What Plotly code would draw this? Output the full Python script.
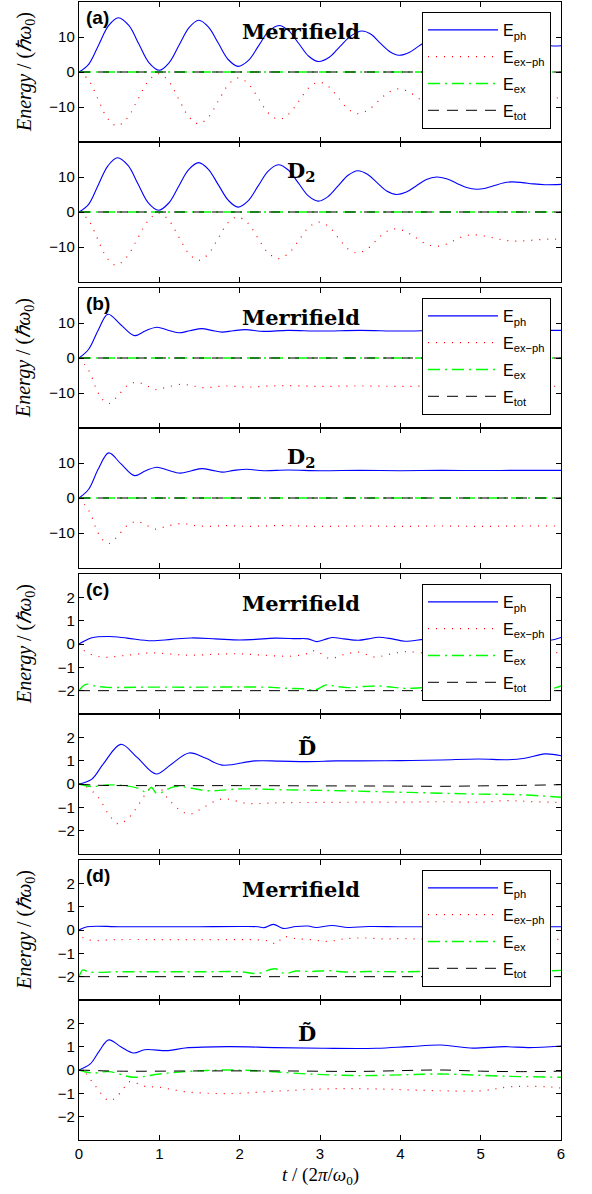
import plotly.graph_objects as go

# ---------------- data ----------------
T_FLAT = [0, 6]

# panel (a) Merrifield
a1_ph_t = [0, 0.12, 0.245, 0.37, 0.49, 0.62, 0.745, 0.87, 1.0, 1.12, 1.245, 1.37, 1.49, 1.61, 1.735, 1.86, 1.98, 2.11, 2.235, 2.36, 2.49, 2.61, 2.735, 2.86, 2.98, 3.12, 3.25, 3.39, 3.52, 3.64, 3.75, 3.87, 3.98, 4.11, 4.23, 4.36, 4.48, 4.6, 4.72, 4.84, 4.96, 5.08, 5.2, 5.32, 5.44, 5.6, 5.75, 5.9, 6.0]
a1_ph = [0, 2.2, 7.75, 13.3, 15.5, 13.3, 8.0, 2.7, 0.5, 2.6, 7.65, 12.7, 14.8, 12.9, 8.2, 3.5, 1.6, 3.3, 7.45, 11.6, 13.3, 11.8, 8.15, 4.5, 3.0, 4.3, 7.35, 10.4, 11.7, 10.7, 8.25, 5.8, 4.8, 5.6, 7.4, 9.2, 10.0, 9.5, 8.15, 6.8, 6.3, 6.65, 7.5, 8.35, 8.7, 8.4, 7.8, 7.45, 7.5]
a1_xp_t = [0, 0.12, 0.235, 0.35, 0.47, 0.6, 0.73, 0.86, 0.99, 1.115, 1.24, 1.365, 1.49, 1.61, 1.735, 1.86, 1.98, 2.11, 2.235, 2.36, 2.49, 2.615, 2.74, 2.865, 2.99, 3.11, 3.23, 3.35, 3.47, 3.6, 3.725, 3.85, 3.98, 4.1, 4.22, 4.34, 4.46, 4.58, 4.705, 4.83, 4.95, 5.075, 5.2, 5.325, 5.45, 5.6, 5.75, 5.9, 6.0]
a1_xp = [0, -2.3, -7.7, -13.05, -15.4, -13.2, -7.95, -2.7, -0.5, -2.6, -7.65, -12.7, -14.8, -12.9, -8.25, -3.6, -1.7, -3.4, -7.6, -11.8, -13.5, -11.95, -8.2, -4.45, -2.9, -4.2, -7.4, -10.6, -11.9, -10.85, -8.35, -5.85, -4.8, -5.6, -7.4, -9.2, -10.0, -9.5, -8.15, -6.8, -6.3, -6.65, -7.5, -8.35, -8.7, -8.4, -7.8, -7.45, -7.4]
a1_ex = [0, 0]
a1_tot = [0, 0]

# panel (a) D2
a2_ph_t = [0, 0.12, 0.24, 0.36, 0.48, 0.61, 0.735, 0.86, 0.99, 1.115, 1.24, 1.365, 1.49, 1.61, 1.735, 1.86, 1.98, 2.105, 2.23, 2.355, 2.48, 2.605, 2.73, 2.855, 2.98, 3.1, 3.225, 3.35, 3.47, 3.59, 3.71, 3.83, 3.95, 4.075, 4.2, 4.325, 4.45, 4.575, 4.7, 4.825, 4.95, 5.06, 5.17, 5.28, 5.39, 5.52, 5.65, 5.8, 6.0]
a2_ph = [0, 2.2, 7.75, 13.2, 15.5, 13.3, 8.0, 2.7, 0.5, 2.5, 7.3, 12.1, 14.1, 12.2, 7.75, 3.3, 1.4, 3.2, 7.45, 11.7, 13.5, 12.0, 8.3, 4.6, 3.1, 4.4, 7.45, 10.5, 11.8, 10.8, 8.4, 6.0, 5.0, 5.7, 7.5, 9.3, 10.0, 9.5, 8.25, 7.0, 6.5, 6.8, 7.55, 8.3, 8.6, 8.4, 8.05, 7.8, 7.9]
a2_xp_t = [0, 0.115, 0.23, 0.345, 0.46, 0.59, 0.725, 0.86, 0.99, 1.115, 1.24, 1.365, 1.49, 1.61, 1.73, 1.85, 1.97, 2.1, 2.225, 2.35, 2.48, 2.61, 2.735, 2.86, 2.99, 3.11, 3.225, 3.34, 3.46, 3.58, 3.695, 3.81, 3.93, 4.06, 4.19, 4.32, 4.45, 4.56, 4.67, 4.78, 4.89, 5.025, 5.16, 5.295, 5.43, 5.57, 5.72, 5.86, 6.0]
a2_xp = [0, -2.2, -7.6, -13.0, -15.2, -13.0, -7.75, -2.5, -0.3, -2.3, -7.05, -11.8, -13.8, -12.0, -7.6, -3.2, -1.4, -3.15, -7.35, -11.55, -13.3, -11.8, -8.1, -4.4, -2.9, -4.2, -7.3, -10.4, -11.7, -10.7, -8.25, -5.8, -4.8, -5.5, -7.3, -9.1, -9.8, -9.3, -8.15, -7.0, -6.5, -6.75, -7.4, -8.05, -8.3, -8.2, -7.9, -7.75, -7.8]
a2_ex = [0, 0]
a2_tot = [0, 0]

# panel (b) Merrifield
b1_ph_t = [0, 0.12, 0.24, 0.36, 0.52, 0.69, 0.83, 0.97, 1.1, 1.24, 1.38, 1.53, 1.65, 1.78, 1.92, 2.07, 2.3, 2.6, 3.0, 3.5, 4.0, 4.5, 5.0, 5.5, 6.0]
b1_ph = [0, 2.5, 8.0, 12.5, 9.5, 6.4, 7.8, 8.8, 8.0, 7.2, 7.8, 8.4, 7.9, 7.4, 7.8, 8.1, 7.6, 7.9, 7.7, 7.9, 7.7, 7.9, 7.8, 7.9, 7.9]
b1_xp_t = [0, 0.07, 0.14, 0.22, 0.29, 0.37, 0.48, 0.6, 0.72, 0.84, 0.95, 1.1, 1.28, 1.42, 1.57, 1.8, 2.1, 2.5, 3.0, 3.5, 4.0, 4.5, 5.0, 5.5, 6.0]
b1_xp = [0, -1.9, -4.3, -9.1, -11.8, -13.0, -10.9, -7.9, -6.9, -7.9, -9.0, -8.3, -7.5, -8.0, -8.5, -8.0, -8.3, -7.9, -8.1, -8.0, -8.1, -8.0, -8.1, -8.0, -8.1]
b1_ex = [0, 0]
b1_tot = [0, 0]

# panel (b) D2
b2_ph_t = [0, 0.12, 0.24, 0.37, 0.52, 0.69, 0.83, 0.97, 1.1, 1.26, 1.4, 1.53, 1.66, 1.78, 1.93, 2.09, 2.3, 2.6, 3.0, 3.5, 4.0, 4.5, 5.0, 5.5, 6.0]
b2_ph = [0, 2.5, 8.3, 12.9, 9.8, 6.4, 7.8, 8.8, 8.0, 7.1, 7.8, 8.4, 7.9, 7.4, 7.9, 8.2, 7.8, 8.0, 7.8, 7.9, 7.8, 7.9, 7.85, 7.9, 7.9]
b2_xp_t = [0, 0.07, 0.14, 0.22, 0.29, 0.37, 0.48, 0.6, 0.72, 0.84, 0.95, 1.1, 1.28, 1.42, 1.57, 1.8, 2.1, 2.5, 3.0, 3.5, 4.0, 4.5, 5.0, 5.5, 6.0]
b2_xp = [0, -1.9, -4.3, -9.1, -11.8, -13.0, -10.9, -7.9, -6.7, -7.8, -8.9, -8.0, -7.3, -7.8, -8.1, -7.9, -8.1, -7.9, -8.1, -8.0, -8.1, -8.0, -8.1, -8.0, -8.0]
b2_ex = [0, 0]
b2_tot = [0, 0]

# panel (c) Merrifield
c1_ph_t = [0, 0.08, 0.16, 0.37, 0.6, 0.9, 1.15, 1.4, 1.7, 2.0, 2.2, 2.44, 2.7, 2.85, 2.96, 3.05, 3.15, 3.3, 3.48, 3.6, 3.73, 3.9, 4.06, 4.3, 4.6, 5.0, 5.4, 5.85, 6.0]
c1_ph = [0, 0.15, 0.27, 0.32, 0.25, 0.14, 0.2, 0.26, 0.22, 0.17, 0.2, 0.25, 0.23, 0.22, 0.1, 0.18, 0.28, 0.22, 0.16, 0.22, 0.29, 0.22, 0.12, 0.2, 0.25, 0.2, 0.25, 0.15, 0.28]
c1_xp_t = [0, 0.07, 0.28, 0.55, 0.9, 1.2, 1.4, 1.7, 2.0, 2.3, 2.65, 2.85, 2.94, 3.12, 3.3, 3.48, 3.68, 3.85, 4.06, 4.4, 4.8, 5.2, 5.6, 5.85, 6.0]
c1_xp = [0, -0.3, -0.56, -0.5, -0.38, -0.45, -0.48, -0.44, -0.42, -0.48, -0.52, -0.4, -0.28, -0.62, -0.45, -0.35, -0.56, -0.45, -0.33, -0.42, -0.45, -0.42, -0.4, -0.45, -0.3]
c1_ex_t = [0, 0.05, 0.1, 0.2, 0.35, 0.8, 1.5, 2.0, 2.4, 2.6, 2.8, 2.94, 3.08, 3.2, 3.35, 3.55, 3.73, 3.9, 4.06, 4.4, 4.8, 5.2, 5.6, 5.85, 6.0]
c1_ex = [-2.0, -1.8, -1.72, -1.8, -1.86, -1.85, -1.85, -1.84, -1.86, -1.9, -1.92, -1.97, -1.75, -1.82, -1.87, -1.82, -1.8, -1.85, -1.9, -1.85, -1.82, -1.85, -1.84, -1.93, -1.8]
c1_tot = [-2, -2]

# panel (c) D-tilde
c2_ph_t = [0, 0.16, 0.3, 0.52, 0.72, 0.96, 1.15, 1.37, 1.58, 1.78, 2.19, 2.5, 2.85, 3.2, 3.48, 4.0, 4.51, 4.97, 5.34, 5.55, 5.8, 6.0]
c2_ph = [0, 0.21, 0.85, 1.7, 1.15, 0.43, 0.85, 1.33, 1.1, 0.81, 0.99, 0.98, 0.96, 0.99, 0.99, 1.0, 1.03, 1.07, 1.04, 1.1, 1.29, 1.21]
c2_xp_t = [0, 0.07, 0.24, 0.36, 0.49, 0.62, 0.72, 0.9, 0.99, 1.11, 1.25, 1.38, 1.55, 1.78, 2.1, 2.5, 3.0, 3.5, 4.0, 4.5, 5.0, 5.34, 5.6, 5.93, 6.0]
c2_xp = [0, -0.07, -0.57, -1.25, -1.71, -1.45, -1.0, -0.14, -0.12, -0.64, -1.1, -1.29, -1.0, -0.64, -0.83, -0.8, -0.79, -0.78, -0.78, -0.76, -0.78, -0.71, -0.75, -0.79, -0.8]
c2_ex_t = [0, 0.16, 0.35, 0.57, 0.75, 0.84, 0.9, 0.97, 1.2, 1.61, 2.02, 2.6, 3.27, 4.1, 4.93, 5.5, 6.0]
c2_ex = [0, -0.11, -0.04, -0.07, -0.2, -0.36, -0.14, -0.4, -0.11, -0.29, -0.21, -0.25, -0.29, -0.36, -0.43, -0.46, -0.57]
c2_tot_t = [0, 0.2, 1, 2, 3, 4, 4.5, 5, 5.5, 6]
c2_tot = [0, -0.05, -0.07, -0.07, -0.08, -0.09, -0.1, -0.08, -0.06, -0.03]

# panel (d) Merrifield
d1_ph_t = [0, 0.1, 0.5, 1.0, 1.5, 2.0, 2.23, 2.3, 2.42, 2.54, 2.7, 2.85, 2.95, 3.15, 3.35, 3.6, 4.0, 4.5, 5.0, 5.5, 6.0]
d1_ph = [0, 0.14, 0.14, 0.14, 0.14, 0.15, 0.14, 0.1, 0.24, 0.07, 0.15, 0.17, 0.11, 0.19, 0.11, 0.15, 0.14, 0.14, 0.14, 0.14, 0.14]
d1_xp_t = [0, 0.05, 0.15, 0.5, 1.0, 1.5, 2.0, 2.23, 2.36, 2.46, 2.54, 2.7, 2.9, 3.1, 3.3, 3.52, 3.8, 4.06, 4.5, 5.0, 5.5, 6.0]
d1_xp = [0, -0.33, -0.44, -0.41, -0.41, -0.41, -0.41, -0.42, -0.47, -0.59, -0.3, -0.37, -0.42, -0.49, -0.38, -0.34, -0.38, -0.37, -0.4, -0.38, -0.4, -0.4]
d1_ex_t = [0, 0.05, 0.12, 0.5, 1.0, 1.5, 2.0, 2.23, 2.44, 2.56, 2.7, 2.9, 3.1, 3.3, 3.6, 4.0, 4.5, 5.0, 5.5, 6.0]
d1_ex = [-2, -1.71, -1.8, -1.79, -1.79, -1.79, -1.79, -1.86, -1.66, -1.87, -1.76, -1.78, -1.74, -1.8, -1.78, -1.79, -1.77, -1.8, -1.79, -1.73]
d1_tot = [-2, -2]

# panel (d) D-tilde
d2_ph_t = [0, 0.14, 0.25, 0.37, 0.52, 0.68, 0.82, 1.11, 1.32, 1.86, 2.44, 3.06, 3.7, 4.1, 4.51, 4.87, 5.3, 5.6, 6.0]
d2_ph = [0, 0.26, 0.8, 1.29, 1.0, 0.73, 0.87, 0.83, 0.94, 1.0, 0.96, 0.93, 0.93, 1.0, 1.07, 0.94, 1.0, 0.96, 1.03]
d2_xp_t = [0, 0.07, 0.2, 0.37, 0.45, 0.55, 0.63, 0.82, 1.0, 1.32, 1.86, 2.44, 3.06, 3.7, 4.51, 5.0, 5.4, 5.93, 6.0]
d2_xp = [0, -0.1, -0.67, -1.31, -1.21, -0.81, -0.5, -0.7, -0.74, -0.93, -1.01, -0.91, -0.81, -0.81, -0.89, -0.89, -0.71, -0.74, -0.78]
d2_ex_t = [0, 0.16, 0.37, 0.68, 1.0, 1.32, 1.82, 2.2, 2.85, 3.48, 4.1, 4.51, 5.34, 6.0]
d2_ex = [0, -0.13, -0.07, -0.31, -0.17, -0.07, 0.0, -0.03, -0.17, -0.24, -0.2, -0.17, -0.27, -0.31]
d2_tot_t = [0, 0.5, 1.5, 2.5, 3.5, 4.5, 5.0, 5.5, 6.0]
d2_tot = [0, -0.05, -0.04, -0.04, -0.06, 0.0, -0.05, -0.07, -0.05]

PANEL_LABELS = ["(a)", "(b)", "(c)", "(d)"]
METHOD_LABELS = ["Merrifield", "D<sub>2</sub>", "Merrifield", "D<sub>2</sub>",
                 "Merrifield", "D\u0303", "Merrifield", "D\u0303"]
SERIES_NAMES = ["E<sub>ph</sub>", "E<sub>ex\u2212ph</sub>", "E<sub>ex</sub>", "E<sub>tot</sub>"]
X_TICKS = [0, 1, 2, 3, 4, 5, 6]
Y_TICKS_BIG = [-10, 0, 10]
Y_TICKS_SMALL = [-2, -1, 0, 1, 2]

panels = [
    [(a1_ph_t, a1_ph), (a1_xp_t, a1_xp), (T_FLAT, a1_ex), (T_FLAT, a1_tot)],
    [(a2_ph_t, a2_ph), (a2_xp_t, a2_xp), (T_FLAT, a2_ex), (T_FLAT, a2_tot)],
    [(b1_ph_t, b1_ph), (b1_xp_t, b1_xp), (T_FLAT, b1_ex), (T_FLAT, b1_tot)],
    [(b2_ph_t, b2_ph), (b2_xp_t, b2_xp), (T_FLAT, b2_ex), (T_FLAT, b2_tot)],
    [(c1_ph_t, c1_ph), (c1_xp_t, c1_xp), (c1_ex_t, c1_ex), (T_FLAT, c1_tot)],
    [(c2_ph_t, c2_ph), (c2_xp_t, c2_xp), (c2_ex_t, c2_ex), (c2_tot_t, c2_tot)],
    [(d1_ph_t, d1_ph), (d1_xp_t, d1_xp), (d1_ex_t, d1_ex), (T_FLAT, d1_tot)],
    [(d2_ph_t, d2_ph), (d2_xp_t, d2_xp), (d2_ex_t, d2_ex), (d2_tot_t, d2_tot)],
]

# ---------------- styling / layout ----------------
W, H = 592, 1194
X0, X1 = 79, 561
PANEL_TOPS = [2, 142, 288, 428, 574, 714, 860, 1000]
PANEL_H = 140

styles = [
    dict(color="#0000ff", width=1.1, dash="solid"),
    dict(color="#ff0000", width=1.2, dash="1px,7px"),
    dict(color="#00ff00", width=1.4, dash="12px,5px,2px,5px"),
    dict(color="#000000", width=1.0, dash="11px,8px"),
]

fig = go.Figure()
legend_names = ["legend", "legend2", "legend3", "legend4"]

for p, series in enumerate(panels):
    idx = p + 1
    xa = "x" if idx == 1 else f"x{idx}"
    ya = "y" if idx == 1 else f"y{idx}"
    group = p // 2
    top_panel = (p % 2 == 0)
    for s, (tt, vv) in enumerate(series):
        fig.add_trace(go.Scatter(
            x=tt, y=vv, mode="lines", name=SERIES_NAMES[s],
            line=dict(shape="spline", smoothing=1.0, **styles[s]),
            xaxis=xa, yaxis=ya,
            showlegend=top_panel,
            legend=legend_names[group],
            legendgroup=f"g{group}s{s}",
            hoverinfo="skip",
        ))

layout = dict(
    width=W, height=H,
    margin=dict(l=0, r=0, t=0, b=0, autoexpand=False),
    paper_bgcolor="white", plot_bgcolor="white",
    showlegend=True,
    font=dict(family="Liberation Sans, Arial", size=14, color="black"),
)

for p in range(8):
    idx = p + 1
    top = PANEL_TOPS[p]
    dom = [1 - (top + PANEL_H) / H, 1 - top / H]
    xkey = "xaxis" if idx == 1 else f"xaxis{idx}"
    ykey = "yaxis" if idx == 1 else f"yaxis{idx}"
    big = p < 4
    layout[xkey] = dict(
        domain=[X0 / W, X1 / W], range=[0, 6], tickvals=X_TICKS,
        ticks="inside", ticklen=5, tickwidth=1, tickcolor="black",
        showline=True, linecolor="black", linewidth=1.4, mirror="ticks",
        showgrid=False, zeroline=False, automargin=False,
        showticklabels=(idx == 8),
        tickfont=dict(family="Liberation Sans, Arial", size=15, color="black"),
        anchor="y" if idx == 1 else f"y{idx}",
        fixedrange=True,
    )
    layout[ykey] = dict(
        domain=dom, range=[-20, 20] if big else [-3, 3],
        tickvals=Y_TICKS_BIG if big else Y_TICKS_SMALL,
        ticks="inside", ticklen=5, tickwidth=1, tickcolor="black",
        showline=True, linecolor="black", linewidth=1.4, mirror="ticks",
        showgrid=False, zeroline=False, automargin=False,
        tickfont=dict(family="Liberation Sans, Arial", size=15, color="black"),
        anchor="x" if idx == 1 else f"x{idx}",
        fixedrange=True,
    )

for g in range(4):
    top = PANEL_TOPS[2 * g]
    layout[legend_names[g]] = dict(
        x=551 / W, xanchor="right", y=1 - (top + 10) / H, yanchor="top",
        bgcolor="white", bordercolor="black", borderwidth=1,
        font=dict(family="Liberation Sans, Arial", size=16, color="black"),
        itemwidth=70, tracegroupgap=3,
    )

fig.update_layout(**layout)

annotations = []
for g in range(4):
    top = PANEL_TOPS[2 * g]
    annotations.append(dict(
        x=25 / W, y=1 - (top + 70) / H, xref="paper", yref="paper",
        text="<i>Energy</i> / (<i>\u210f\u03c9</i><sub>0</sub>)",
        textangle=-90, showarrow=False, xanchor="center", yanchor="middle",
        font=dict(family="Liberation Serif, serif", size=20, color="black"),
    ))
    annotations.append(dict(
        x=84 / W, y=1 - (top + 3) / H, xref="paper", yref="paper",
        text="<b>" + PANEL_LABELS[g] + "</b>", showarrow=False,
        xanchor="left", yanchor="top",
        font=dict(family="Liberation Sans, Arial", size=19, color="black"),
    ))
for p in range(8):
    top = PANEL_TOPS[p]
    lab = METHOD_LABELS[p]
    cy = top + (33 if "\u0303" in lab else 29)
    cx = 307 if "\u0303" in lab else 301
    annotations.append(dict(
        x=cx / W, y=1 - cy / H, xref="paper", yref="paper",
        text="<b>" + lab + "</b>", showarrow=False,
        xanchor="center", yanchor="middle",
        font=dict(family="DejaVu Serif, serif", size=21, color="black"),
    ))
annotations.append(dict(
    x=320 / W, y=1 - 1176 / H, xref="paper", yref="paper",
    text="<i>t</i> / (2<i>\u03c0</i>/<i>\u03c9</i><sub>0</sub>)",
    showarrow=False, xanchor="center", yanchor="middle",
    font=dict(family="Liberation Serif, serif", size=19, color="black"),
))
fig.update_layout(annotations=annotations)

fig.write_html(
    "out.html",
    config={"displayModeBar": False},
    post_script="document.body.style.margin='0px';document.body.style.overflow='hidden';",
)
